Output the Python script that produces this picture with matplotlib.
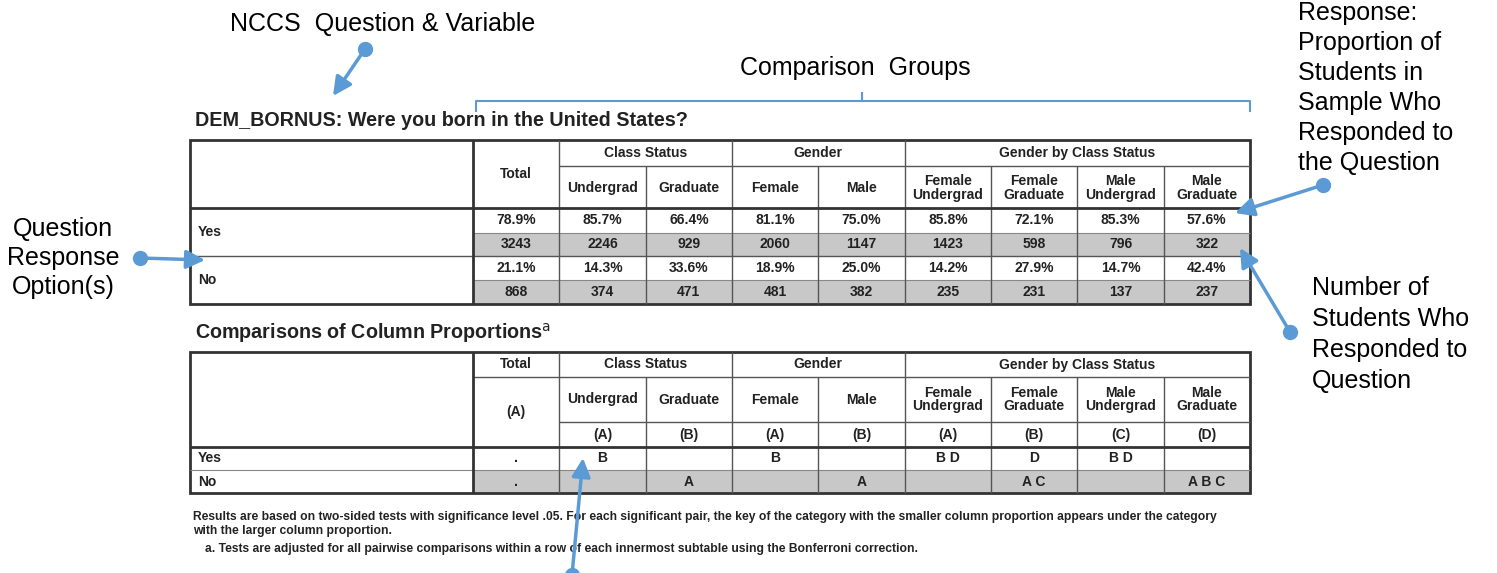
import numpy as np
import matplotlib.pyplot as plt

plt.rcParams['font.family'] = ['Liberation Sans', 'DejaVu Sans']

# data of the crosstab
row_labels = ['Yes', 'No']
group_names = ['Class Status', 'Gender', 'Gender by Class Status']
group_spans = [2, 2, 4]
col_names = ['Total', 'Undergrad', 'Graduate', 'Female', 'Male',
             'Female\nUndergrad', 'Female\nGraduate', 'Male\nUndergrad', 'Male\nGraduate']
pct_yes = [78.9, 85.7, 66.4, 81.1, 75.0, 85.8, 72.1, 85.3, 57.6]
n_yes = [3243, 2246, 929, 2060, 1147, 1423, 598, 796, 322]
pct_no = [21.1, 14.3, 33.6, 18.9, 25.0, 14.2, 27.9, 14.7, 42.4]
n_no = [868, 374, 471, 481, 382, 235, 231, 137, 237]
col_keys = ['(A)', '(A)', '(B)', '(A)', '(B)', '(A)', '(B)', '(C)', '(D)']
sig_yes = ['.', 'B', '', 'B', '', 'B D', 'D', 'B D', '']
sig_no = ['.', '', 'A', '', 'A', '', 'A C', '', 'A B C']

title1 = 'DEM_BORNUS: Were you born in the United States?'
title2 = 'Comparisons of Column Proportions$^{\\mathrm{a}}$'
foot1 = ('Results are based on two-sided tests with significance level .05. For each significant pair, '
         'the key of the category with the smaller column proportion appears under the category')
foot2 = 'with the larger column proportion.'
foot3 = 'a. Tests are adjusted for all pairwise comparisons within a row of each innermost subtable using the Bonferroni correction.'

note_left = ['Question', 'Response', 'Option(s)']
note_resp = ['Response:', 'Proportion of', 'Students in', 'Sample Who',
             'Responded to', 'the Question']
note_num = ['Number of', 'Students Who', 'Responded to', 'Question']

BLUE = '#5b9bd5'
GRAY = '#c8c8c8'
INK = '#222222'
CELL = 10

fig = plt.figure(figsize=(14.97, 5.73), dpi=100)
ax = fig.add_axes([0, 0, 1, 1])
ax.set_xlim(0, 1497)
ax.set_ylim(573, 0)
ax.axis('off')

left, right = 190, 1250
edges = np.linspace(473, 1250, len(col_names) + 1)
mids = (edges[:-1] + edges[1:]) / 2
gstart = np.cumsum([1] + group_spans[:-1])


def hline(y, x0, x1, lw=1.0, c='#555555'):
    ax.plot([x0, x1], [y, y], color=c, lw=lw, solid_capstyle='butt')


def vline(x, y0, y1, lw=1.0, c='#555555'):
    ax.plot([x, x], [y0, y1], color=c, lw=lw, solid_capstyle='butt')


def cell(x, y, s, size=CELL):
    ax.text(x, y, s, ha='center', va='center', fontsize=size, fontweight='bold',
            color=INK, linespacing=0.95)


# ---------- table 1 ----------
ax.text(195, 121, title1, fontsize=14.2, fontweight='bold', color=INK, va='center')
top, sub, hbot = 140, 166, 208
rows = [208, 233, 256, 280, 304]
for i in range(2):
    ax.add_patch(plt.Rectangle((edges[0], rows[2 * i + 1]), edges[-1] - edges[0],
                               rows[2 * i + 2] - rows[2 * i + 1], color=GRAY, lw=0))
for k, (g, sp) in enumerate(zip(group_names, group_spans)):
    a, b = edges[gstart[k]], edges[gstart[k] + sp]
    cell((a + b) / 2, (top + sub) / 2, g)
    hline(sub, a, b)
cell(mids[0], (top + hbot) / 2, col_names[0])
for j in range(1, len(col_names)):
    cell(mids[j], (sub + hbot) / 2 + 1, col_names[j])
for j in range(len(col_names)):
    cell(mids[j], (rows[0] + rows[1]) / 2, f'{pct_yes[j]:.1f}%')
    cell(mids[j], (rows[1] + rows[2]) / 2, f'{n_yes[j]}')
    cell(mids[j], (rows[2] + rows[3]) / 2, f'{pct_no[j]:.1f}%')
    cell(mids[j], (rows[3] + rows[4]) / 2, f'{n_no[j]}')
for i, lab in enumerate(row_labels):
    ax.text(left + 8, (rows[2 * i] + rows[2 * i + 2]) / 2, lab, fontsize=CELL,
            fontweight='bold', color=INK, va='center')
hline(rows[1], edges[0], right, 0.8, '#888888')
hline(rows[3], edges[0], right, 0.8, '#888888')
hline(rows[2], left, right, 1.0)
for j, x in enumerate(edges[1:-1], start=1):
    y0 = top if j in list(gstart) else sub
    vline(x, y0, rows[-1], 1.0)
hline(hbot, left, right, 2.0, '#333333')
vline(edges[0], top, rows[-1], 2.0, '#333333')
ax.add_patch(plt.Rectangle((left, top), right - left, rows[-1] - top, fill=False,
                           ec='#333333', lw=2.0))

# ---------- table 2 ----------
ax.text(195, 333, title2, fontsize=14.2, fontweight='bold', color=INK, va='center')
top, sub, kline, hbot = 352, 377, 422, 447
rows2 = [447, 470, 493]
ax.add_patch(plt.Rectangle((edges[0], rows2[1]), edges[-1] - edges[0],
                           rows2[2] - rows2[1], color=GRAY, lw=0))
cell(mids[0], (top + sub) / 2, col_names[0])
hline(sub, edges[0], edges[1])
cell(mids[0], (sub + hbot) / 2, col_keys[0])
for k, (g, sp) in enumerate(zip(group_names, group_spans)):
    a, b = edges[gstart[k]], edges[gstart[k] + sp]
    cell((a + b) / 2, (top + sub) / 2, g)
    hline(sub, a, b)
    hline(kline, a, b)
for j in range(1, len(col_names)):
    cell(mids[j], (sub + kline) / 2, col_names[j])
    cell(mids[j], (kline + hbot) / 2, col_keys[j])
for j in range(len(col_names)):
    cell(mids[j], (rows2[0] + rows2[1]) / 2, sig_yes[j])
    cell(mids[j], (rows2[1] + rows2[2]) / 2, sig_no[j])
for i, lab in enumerate(row_labels):
    ax.text(left + 8, (rows2[i] + rows2[i + 1]) / 2, lab, fontsize=CELL,
            fontweight='bold', color=INK, va='center')
hline(rows2[1], left, right, 0.8, '#888888')
for j, x in enumerate(edges[1:-1], start=1):
    y0 = top if j in list(gstart) else sub
    vline(x, y0, rows2[-1], 1.0)
hline(hbot, left, right, 2.0, '#333333')
vline(edges[0], top, rows2[-1], 2.0, '#333333')
ax.add_patch(plt.Rectangle((left, top), right - left, rows2[-1] - top, fill=False,
                           ec='#333333', lw=2.0))

# footnotes
ax.text(193, 517, foot1, fontsize=8.7, fontweight='bold', color=INK, va='center')
ax.text(193, 531, foot2, fontsize=8.7, fontweight='bold', color=INK, va='center')
ax.text(205, 549, foot3, fontsize=8.7, fontweight='bold', color=INK, va='center')

# ---------- annotations ----------
big = dict(fontsize=18, color='black', va='center')
ax.text(383, 24, 'NCCS  Question & Variable', ha='center', **big)
ax.text(855, 68, 'Comparison  Groups', ha='center', **big)
for i, s in enumerate(note_left):
    ax.text(63, 229 + 29 * i, s, ha='center', **big)
for i, s in enumerate(note_resp):
    ax.text(1298, 13 + 30 * i, s, ha='left', **big)
for i, s in enumerate(note_num):
    ax.text(1312, 288 + 31 * i, s, ha='left', **big)

# bracket over comparison groups
ax.plot([476, 476, 1250, 1250], [111, 101, 101, 111], color=BLUE, lw=1.5)
ax.plot([862, 862], [101, 93], color=BLUE, lw=1.5)

arrows = [((365, 49), (333, 96)), ((140, 258), (205, 260)),
          ((1323, 185), (1235, 213)), ((1290, 332), (1240, 248)),
          ((572, 575), (583, 458))]
for (x0, y0), (x1, y1) in arrows:
    ax.annotate('', xy=(x1, y1), xytext=(x0, y0),
                arrowprops=dict(arrowstyle='-|>', color=BLUE, lw=2.5,
                                mutation_scale=28, shrinkA=0, shrinkB=0))
    ax.plot(x0, y0, 'o', color=BLUE, ms=10, clip_on=False)

fig.savefig('out.png', dpi=100)
